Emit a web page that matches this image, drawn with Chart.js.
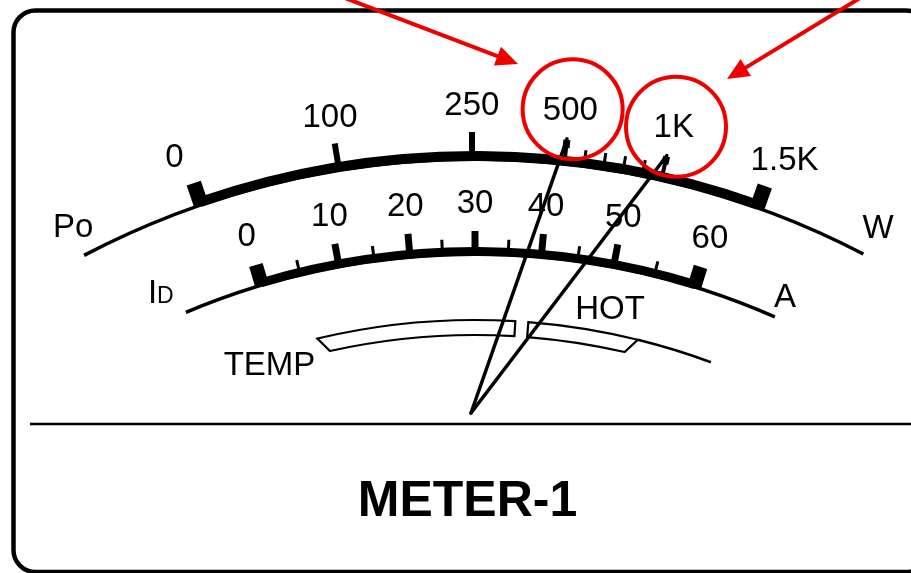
<!DOCTYPE html>
<html>
<head>
<meta charset="utf-8">
<title>METER-1</title>
<script src="https://cdn.jsdelivr.net/npm/chart.js@4.4.1/dist/chart.umd.min.js"></script>
<style>
    html, body { margin: 0; padding: 0; background: #fff; }
    #wrap { width: 911px; height: 573px; }
    canvas { display: block; }
</style>
</head>
<body>
<div id="wrap"><canvas id="meter" width="911" height="573"></canvas></div>
<script>
// Po (output power) scale, watts
const poLabels = ['0', '100', '250', '500', '1K', '1.5K'];
const poValues = [0, 100, 250, 500, 1000, 1500];
const poDeflection = [-19.0, -9.3, -0.2, 6.1, 12.8, 19.6]; // degrees off vertical, read from the dial
const poMinor = [600, 700, 800, 900];

// ID (drain current) scale, amps
const idLabels = ['0', '10', '20', '30', '40', '50', '60'];
const idValues = [0, 10, 20, 30, 40, 50, 60];
const idDeflection = [-16.6, -10.5, -5.0, 0, 5.1, 10.7, 17.1];
const idMinor = [5, 15, 25, 35, 45, 55];

// the two needle readings on the Po scale (W) and the labels ringed in red
const needleReadings = [500, 1000];
const ringedLabels = ['500', '1K'];

// dial geometry, in chart units (same as pixels here)
const DIAL = { cx: 475, cy: 1000, pivotX: 471, pivotY: 413 };
const FONT = '"Liberation Sans", Arial, sans-serif';

function deflect(values, angles, v) {
    for (let i = 0; i < values.length - 1; i++) {
        if (v <= values[i + 1]) {
            const t = (v - values[i]) / (values[i + 1] - values[i]);
            return angles[i] + t * (angles[i + 1] - angles[i]);
        }
    }
    return angles[angles.length - 1];
}

function polar(deg, r) {
    const a = deg * Math.PI / 180;
    return { x: DIAL.cx + r * Math.sin(a), y: DIAL.cy - r * Math.cos(a) };
}

// end labels sit a little further out than their ticks
function poLabelAngle(d) {
    return Math.abs(d) > 15 ? d * 1.03 : d;
}

const meterFace = {
    id: 'meterFace',
    beforeDatasetsDraw(chart) {
        const ctx = chart.ctx;
        const sx = chart.scales.x, sy = chart.scales.y;
        const px = (p) => [sx.getPixelForValue(p.x), sy.getPixelForValue(p.y)];
        const k = sx.getPixelForValue(1) - sx.getPixelForValue(0);
        const [ccx, ccy] = px({ x: DIAL.cx, y: DIAL.cy });
        const rad = (deg) => (deg - 90) * Math.PI / 180;

        function arc(r, a0, a1, width) {
            ctx.beginPath();
            ctx.arc(ccx, ccy, r * k, rad(a0), rad(a1));
            ctx.lineWidth = width;
            ctx.stroke();
        }

        function bar(deg, r0, r1, w) {
            const a = deg * Math.PI / 180;
            const nx = Math.cos(a) * w / 2, ny = Math.sin(a) * w / 2;
            const p0 = polar(deg, r0), p1 = polar(deg, r1);
            const pts = [
                { x: p0.x - nx, y: p0.y - ny }, { x: p1.x - nx, y: p1.y - ny },
                { x: p1.x + nx, y: p1.y + ny }, { x: p0.x + nx, y: p0.y + ny }
            ].map(px);
            ctx.beginPath();
            ctx.moveTo(pts[0][0], pts[0][1]);
            for (let i = 1; i < pts.length; i++) ctx.lineTo(pts[i][0], pts[i][1]);
            ctx.closePath();
            ctx.fill();
        }

        function label(text, deg, r, size, bold) {
            const p = px(polar(deg, r));
            ctx.font = (bold ? 'bold ' : '') + size + 'px ' + FONT;
            ctx.textAlign = 'center';
            ctx.textBaseline = 'alphabetic';
            ctx.fillText(text, p[0], p[1] + size * 0.358);
        }

        function text(str, x, y, size, align, bold) {
            const p = px({ x, y });
            ctx.font = (bold ? 'bold ' : '') + size + 'px ' + FONT;
            ctx.textAlign = align;
            ctx.textBaseline = 'alphabetic';
            ctx.fillText(str, p[0], p[1]);
        }

        ctx.save();
        ctx.fillStyle = '#fff';
        ctx.fillRect(0, 0, chart.width, chart.height);
        ctx.strokeStyle = '#000';
        ctx.fillStyle = '#000';
        ctx.lineCap = 'butt';

        // outer frame
        const tl = px({ x: 13.5, y: 10.5 }), br = px({ x: 928, y: 572 });
        ctx.beginPath();
        ctx.roundRect(tl[0], tl[1], br[0] - tl[0], br[1] - tl[1], 22);
        ctx.lineWidth = 4.5;
        ctx.stroke();

        // Po scale
        const poFirst = poDeflection[0], poLast = poDeflection[poDeflection.length - 1];
        arc(841, -27.7, 27.5, 3.5);
        arc(844, poFirst, poLast, 10);
        poDeflection.forEach((d, i) => {
            if (i === 0 || i === poDeflection.length - 1) bar(d, 842, 864, 15);
            else if (poValues[i] >= 500) {
                bar(d, 846, 864, 4);
                bar(d, 857, 865, 7);
            }
            else bar(d, 846, 868, 6);
            label(poLabels[i], poLabelAngle(d), 897, 33);
        });
        poMinor.forEach(v => bar(deflect(poValues, poDeflection, v), 846, 857, 3));

        // ID scale
        const idFirst = idDeflection[0], idLast = idDeflection[idDeflection.length - 1];
        arc(746, -22.8, 23.7, 3.5);
        arc(748.5, idFirst, idLast, 9);
        idDeflection.forEach((d, i) => {
            if (i === 0 || i === idDeflection.length - 1) bar(d, 746, 767, 14);
            else bar(d, 750, 769, 7);
            label(idLabels[i], d, 799, 33);
        });
        idMinor.forEach(v => bar(deflect(idValues, idDeflection, v), 750, 761, 3));

        // TEMP band: cool part, hot part, then thin tail
        ctx.lineWidth = 2.2;
        ctx.lineJoin = 'miter';
        [[-13.4, -12.6, 3.4, 3.4], [4.5, 4.5, 13.85, 13.0]].forEach(([o0, i0, o1, i1]) => {
            ctx.beginPath();
            ctx.arc(ccx, ccy, 680 * k, rad(o0), rad(o1));
            ctx.arc(ccx, ccy, 665 * k, rad(i1), rad(i0), true);
            ctx.closePath();
            ctx.stroke();
        });
        arc(680, 13.85, 20.3, 2.5);

        // scale names
        text('Po', 53, 237, 33, 'left');
        text('W', 878, 238, 33, 'center');
        text('I', 148, 303, 33, 'left');
        text('D', 157, 303, 23, 'left');
        text('A', 785, 307, 33, 'center');
        text('HOT', 610, 319, 33, 'center');
        text('TEMP', 269.5, 375, 33, 'center');

        // divider and title
        const l0 = px({ x: 30, y: 424 }), l1 = px({ x: 911, y: 424 });
        ctx.beginPath();
        ctx.moveTo(l0[0], l0[1]);
        ctx.lineTo(l1[0], l1[1]);
        ctx.lineWidth = 2.5;
        ctx.stroke();
        text('METER-1', 467.5, 516, 50, 'center', true);
        ctx.restore();
    },
    afterDatasetsDraw(chart) {
        const ctx = chart.ctx;
        const sx = chart.scales.x, sy = chart.scales.y;
        const px = (p) => [sx.getPixelForValue(p.x), sy.getPixelForValue(p.y)];
        const red = '#ee0000';
        ctx.save();
        ctx.strokeStyle = red;
        ctx.fillStyle = red;
        ctx.lineWidth = 4;

        // rings round the labels the needles point at
        ringedLabels.forEach(t => {
            const i = poLabels.indexOf(t);
            const c = px(polar(poLabelAngle(poDeflection[i]) + 0.15, 897));
            ctx.beginPath();
            ctx.arc(c[0], c[1] + 1, 50, 0, Math.PI * 2);
            ctx.stroke();
        });

        // arrows coming in from the top edge
        [[{ x: 345, y: -2 }, { x: 518, y: 64 }], [{ x: 860, y: -2 }, { x: 727, y: 79 }]].forEach(([a, b]) => {
            const pa = px(a), pb = px(b);
            const dx = pb[0] - pa[0], dy = pb[1] - pa[1];
            const len = Math.hypot(dx, dy), ux = dx / len, uy = dy / len;
            const head = 22, half = 10;
            const bx = pb[0] - ux * head, by = pb[1] - uy * head;
            ctx.beginPath();
            ctx.moveTo(pa[0], pa[1]);
            ctx.lineTo(bx + ux * 2, by + uy * 2);
            ctx.stroke();
            ctx.beginPath();
            ctx.moveTo(pb[0], pb[1]);
            ctx.lineTo(bx - uy * half, by + ux * half);
            ctx.lineTo(bx + uy * half, by - ux * half);
            ctx.closePath();
            ctx.fill();
        });
        ctx.restore();
    }
};

const needles = needleReadings.map(v => {
    const tip = polar(deflect(poValues, poDeflection, v), 866);
    return {
        label: v + ' W',
        data: [{ x: DIAL.pivotX, y: DIAL.pivotY }, tip],
        showLine: true,
        borderColor: '#000',
        borderWidth: 3.5,
        pointRadius: 0,
        borderCapStyle: 'round',
        clip: false
    };
});

new Chart(document.getElementById('meter'), {
    type: 'scatter',
    data: { datasets: needles },
    options: {
        responsive: false,
        animation: false,
        devicePixelRatio: 1,
        layout: { padding: 0 },
        events: [],
        plugins: {
            legend: { display: false },
            tooltip: { enabled: false }
        },
        scales: {
            x: { type: 'linear', min: 0, max: 911, display: false },
            y: { type: 'linear', min: 0, max: 573, reverse: true, display: false }
        }
    },
    plugins: [meterFace]
});
</script>
</body>
</html>
